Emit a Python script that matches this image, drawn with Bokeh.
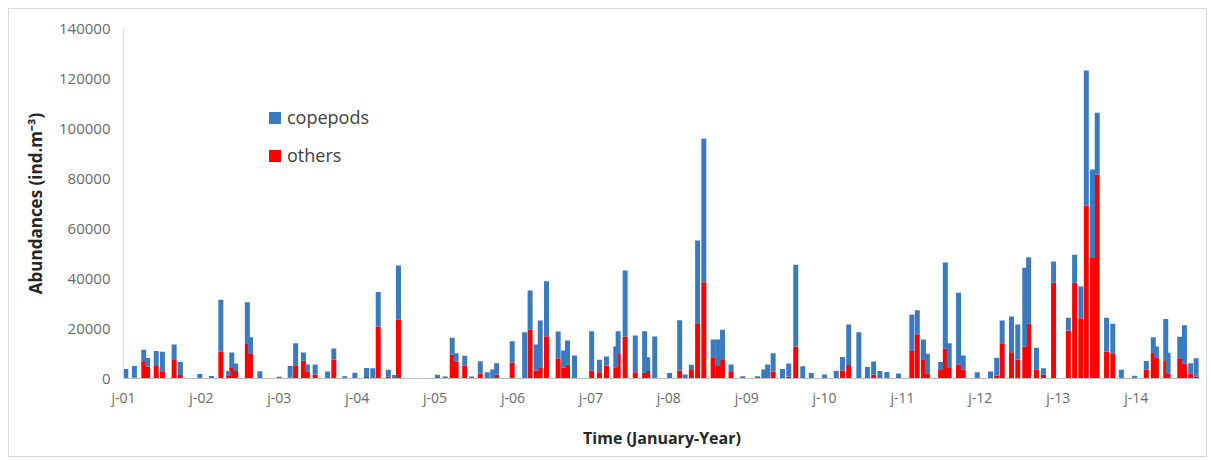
from bokeh.plotting import figure
from bokeh.models import (FixedTicker, NumeralTickFormatter, Legend, LegendItem,
                          ColumnDataSource, Range1d)
from bokeh.embed import file_html
from bokeh.resources import INLINE

# sampling time (decimal year)
sample_time = [
    2001.03, 2001.14, 2001.26, 2001.31, 2001.42, 2001.50, 2001.65, 2001.73, 2001.98,
    2002.13, 2002.25, 2002.35, 2002.39, 2002.44, 2002.59, 2002.63, 2002.75,
    2003.00, 2003.14, 2003.21, 2003.31, 2003.36, 2003.46, 2003.62, 2003.70, 2003.84, 2003.97,
    2004.12, 2004.20, 2004.27, 2004.40, 2004.48, 2004.53,
    2005.03, 2005.13, 2005.22, 2005.27, 2005.38, 2005.47, 2005.58, 2005.67, 2005.74, 2005.79, 2005.99,
    2006.15, 2006.22, 2006.30, 2006.35, 2006.43, 2006.58, 2006.65, 2006.70, 2006.79,
    2007.01, 2007.11, 2007.20, 2007.32, 2007.35, 2007.44, 2007.57, 2007.69, 2007.73, 2007.82,
    2008.01, 2008.14, 2008.21, 2008.29, 2008.37, 2008.45, 2008.57, 2008.63, 2008.69, 2008.80, 2008.95,
    2009.14, 2009.22, 2009.27, 2009.34, 2009.46, 2009.54, 2009.63, 2009.72, 2009.83,
    2010.00, 2010.15, 2010.23, 2010.31, 2010.44, 2010.55, 2010.63, 2010.71, 2010.80, 2010.95,
    2011.12, 2011.19, 2011.27, 2011.32, 2011.49, 2011.55, 2011.60, 2011.72, 2011.78, 2011.96,
    2012.13, 2012.21, 2012.28, 2012.40, 2012.48, 2012.57, 2012.62, 2012.72, 2012.81, 2012.94,
    2013.13, 2013.21, 2013.29, 2013.36, 2013.44, 2013.50, 2013.62, 2013.70, 2013.81, 2013.98,
    2014.13, 2014.22, 2014.26, 2014.38, 2014.41, 2014.56, 2014.62, 2014.70, 2014.77,
]

# total abundance (ind.m-3)
total = [
    3800, 5000, 11500, 8200, 11000, 10700, 13600, 6600, 1800,
    1000, 31500, 3000, 10400, 6000, 30500, 16500, 2900,
    700, 5000, 14100, 10400, 5600, 5600, 2800, 12000, 900, 2300,
    4200, 4100, 34600, 3500, 1400, 45200,
    1500, 800, 16300, 10100, 9100, 800, 6900, 2500, 3600, 6100, 14900,
    18500, 35200, 13600, 23200, 38900, 18800, 11200, 15200, 9200,
    18900, 7500, 8800, 12800, 18900, 43200, 17200, 18900, 8500, 16800,
    2200, 23300, 1600, 5500, 55200, 95900, 15600, 15600, 19500, 5600, 900,
    900, 3600, 5600, 10100, 3800, 6000, 45500, 4900, 2200,
    1600, 3000, 8600, 21600, 18500, 4600, 6800, 3000, 2600, 2000,
    25500, 27300, 15600, 9900, 6600, 46400, 14100, 34300, 9200, 2500,
    2800, 8300, 23200, 24800, 21600, 44300, 48500, 12300, 4100, 46800,
    24300, 49500, 36800, 123200, 83600, 106300, 24300, 21900, 3500, 1100,
    7000, 16500, 12800, 23800, 10300, 16700, 21300, 6100, 8100,
]

# others (ind.m-3)
others = [
    0, 400, 6600, 4800, 5000, 2600, 7400, 1400, 0,
    0, 10700, 1000, 4200, 3000, 14100, 9800, 0,
    0, 300, 5000, 7100, 2700, 1600, 0, 7600, 0, 0,
    600, 500, 20800, 800, 500, 23500,
    0, 0, 9500, 6800, 5200, 0, 1900, 0, 0, 1500, 6400,
    0, 19500, 3200, 4500, 16900, 7900, 4300, 5500, 0,
    3200, 2500, 5200, 4300, 10100, 16800, 2500, 2300, 3000, 0,
    0, 3200, 0, 3400, 22100, 38500, 8500, 5000, 7400, 2600, 0,
    0, 0, 0, 2700, 0, 800, 12800, 0, 0,
    0, 0, 3200, 5400, 0, 0, 1600, 0, 0, 0,
    11000, 17700, 7700, 2100, 3400, 12000, 4500, 5600, 3500, 0,
    0, 1200, 14100, 10500, 7500, 12800, 21900, 3500, 1500, 38300,
    19200, 38300, 24100, 69200, 48500, 81600, 10800, 10100, 0, 0,
    3500, 10500, 8300, 7300, 1900, 8100, 5900, 1900, 800,
]

copepods = [t - o for t, o in zip(total, others)]

years = list(range(2001, 2015))
year_labels = ["j-%02d" % (y % 100) for y in years]
y_ticks = list(range(0, 140001, 20000))

FONT = "Open Sans"
BLUE = "#3A7AC0"
RED = "#FF0000"

src = ColumnDataSource(dict(t=sample_time, others=others, copepods=copepods))

p = figure(width=1199, height=449, output_backend="svg", toolbar_location=None,
           x_range=Range1d(2001.0, 2014.826), y_range=Range1d(0, 140000),
           min_border_left=114, min_border_right=8, min_border_top=19,
           min_border_bottom=80)
p.margin = (8, 0, 0, 8)
p.styles = {"border": "1px solid #d9d9d9"}
p.outline_line_color = None
p.xgrid.visible = False
p.ygrid.visible = False

rs = p.vbar_stack(["others", "copepods"], x="t", width=0.064, source=src,
                  fill_color=[RED, BLUE], line_color=None)

# y axis
ya = p.yaxis[0]
ya.ticker = FixedTicker(ticks=y_ticks)
ya.formatter = NumeralTickFormatter(format="0")
ya.axis_line_color = "#d9d9d9"
ya.major_tick_line_color = None
ya.minor_tick_line_color = None
ya.major_label_standoff = 7
ya.major_label_text_font = FONT
ya.major_label_text_font_size = "15px"
ya.major_label_text_color = "#6a6a6a"
ya.axis_label = "Abundances (ind.m\u207b\u00b3)"
ya.axis_label_text_font = FONT
ya.axis_label_text_font_size = "17px"
ya.axis_label_text_font_style = "bold"
ya.axis_label_text_color = "#262626"
ya.axis_label_standoff = 9

# x axis
xa = p.xaxis[0]
xa.ticker = FixedTicker(ticks=years)
xa.major_label_overrides = {y: lab for y, lab in zip(years, year_labels)}
xa.axis_line_color = "#bfbfbf"
xa.major_tick_line_color = None
xa.minor_tick_line_color = None
xa.major_label_standoff = 3
xa.major_label_text_font = FONT
xa.major_label_text_font_size = "14px"
xa.major_label_text_color = "#6a6a6a"
xa.axis_label = "Time (January-Year)"
xa.axis_label_text_font = FONT
xa.axis_label_text_font_size = "16px"
xa.axis_label_text_font_style = "bold"
xa.axis_label_text_color = "#262626"
xa.axis_label_standoff = 17

legend = Legend(items=[LegendItem(label="copepods", renderers=[rs[1]]),
                       LegendItem(label="others", renderers=[rs[0]])],
                location=(144, 211), orientation="vertical",
                glyph_width=15, glyph_height=15, label_height=15,
                spacing=14, padding=0, margin=0, label_standoff=5,
                border_line_color=None, background_fill_alpha=0,
                label_text_font=FONT, label_text_font_size="18px",
                label_text_color="#404040")
p.add_layout(legend, "center")

open("out.html", "w").write(file_html(p, INLINE))
